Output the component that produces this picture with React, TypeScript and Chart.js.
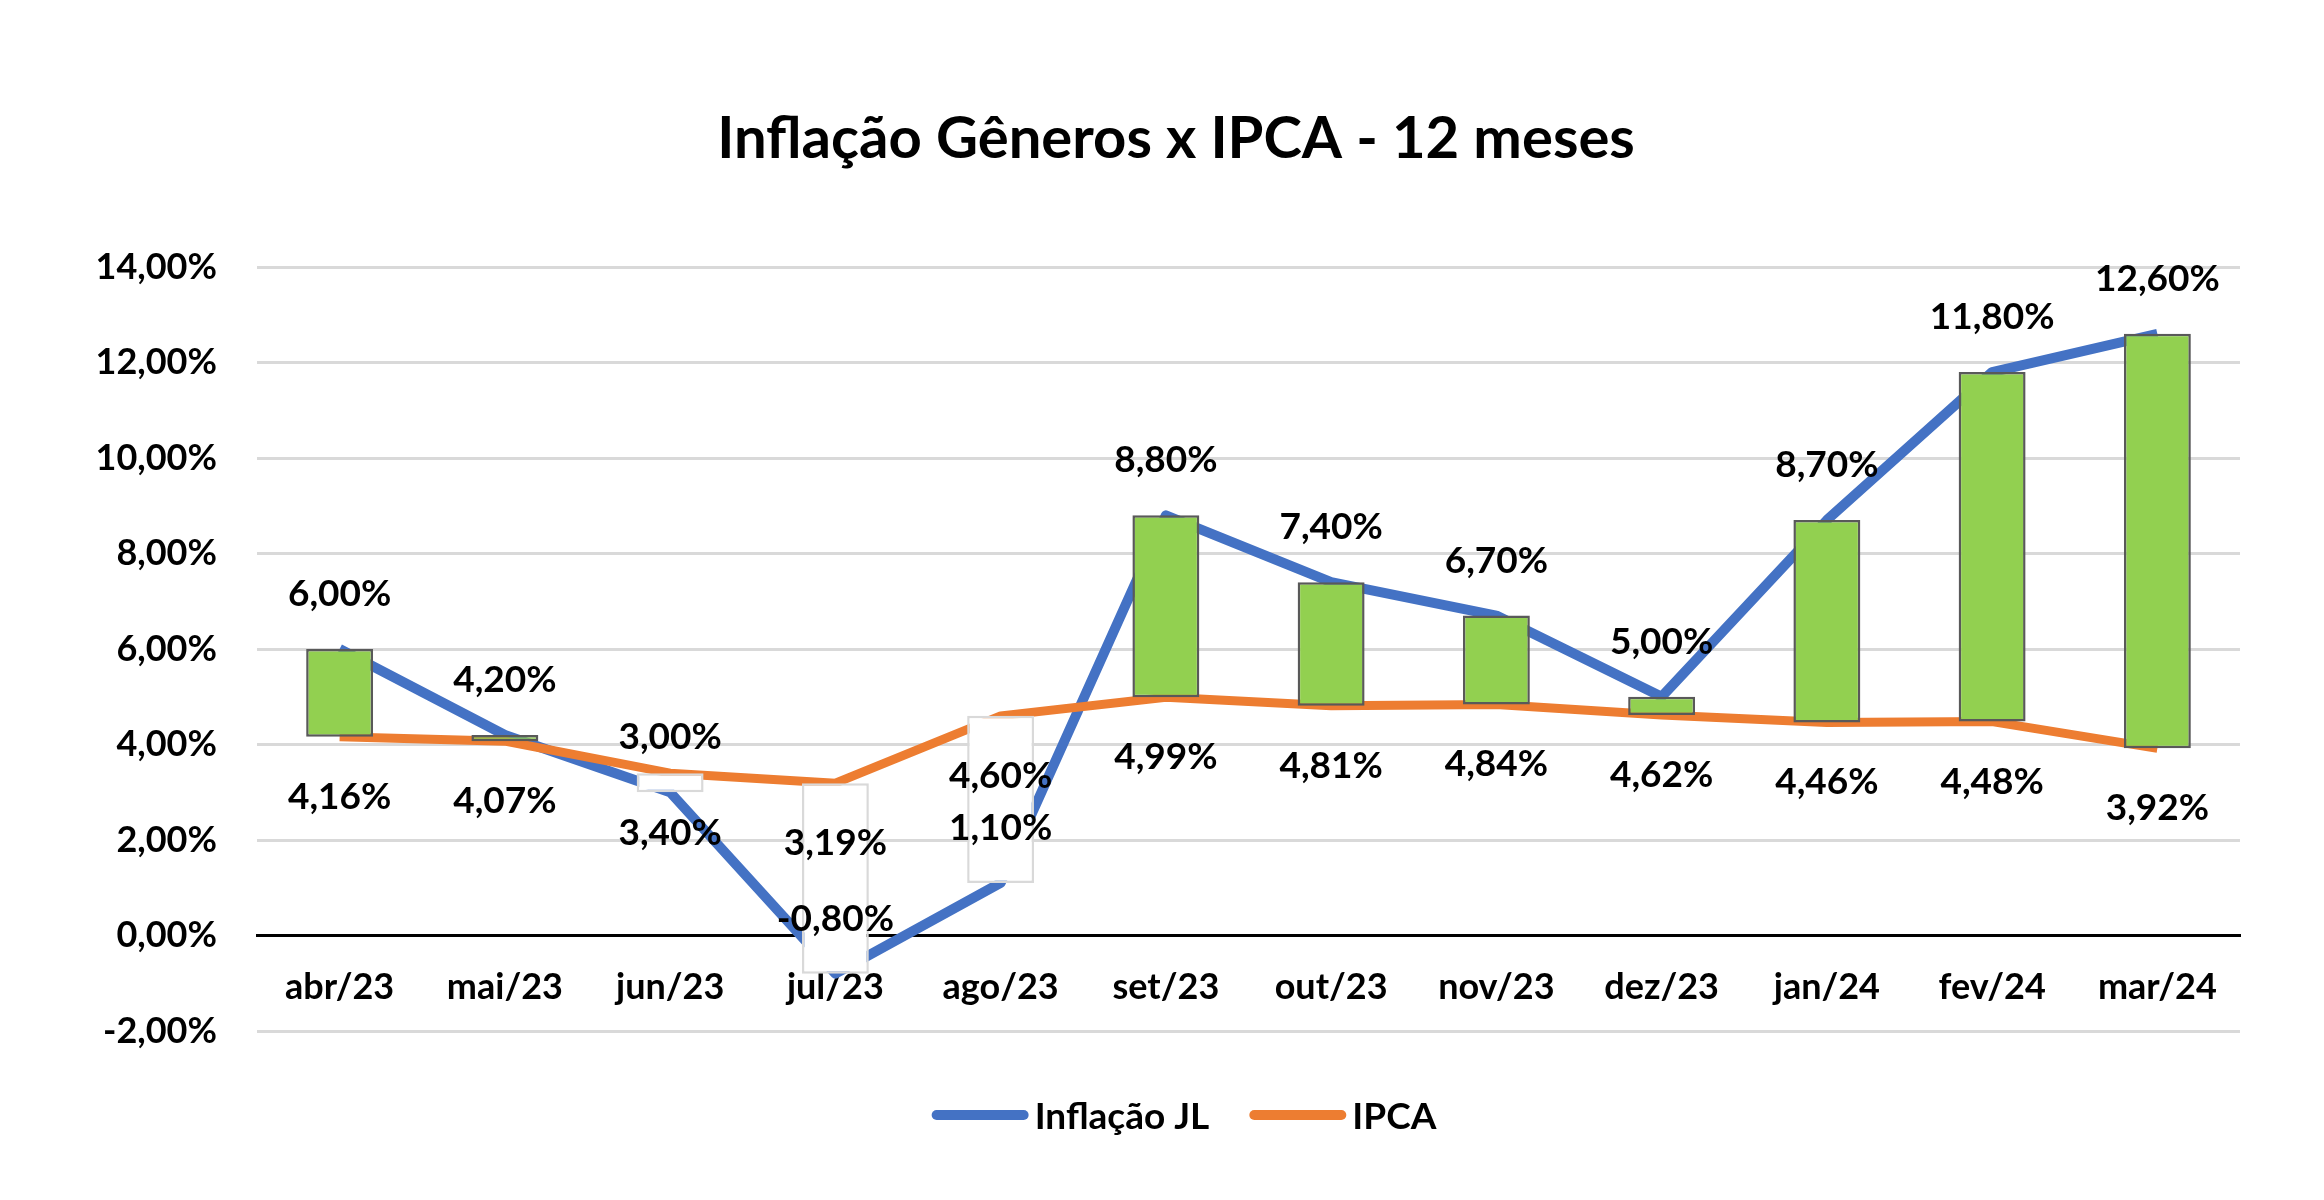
import React, { useEffect, useRef } from 'react';
import { Chart, registerables } from 'chart.js';

Chart.register(...registerables);

// ---- data ----
const months = ['abr/23', 'mai/23', 'jun/23', 'jul/23', 'ago/23', 'set/23', 'out/23', 'nov/23', 'dez/23', 'jan/24', 'fev/24', 'mar/24'];
const inflacaoJL = [6.0, 4.2, 3.0, -0.8, 1.1, 8.8, 7.4, 6.7, 5.0, 8.7, 11.8, 12.6];
const ipca = [4.16, 4.07, 3.4, 3.19, 4.6, 4.99, 4.81, 4.84, 4.62, 4.46, 4.48, 3.92];
const seriesNames = ['Inflação JL', 'IPCA'];
const chartTitle = 'Inflação Gêneros x IPCA - 12 meses';
const yMin = -2;
const yMax = 14;
const yStep = 2;

// ---- styles ----
const FONT = 'Lato, "Noto Sans", sans-serif';
const BLUE = '#4472C4';
const ORANGE = '#ED7D31';
const UP_FILL = '#92D050';
const UP_BORDER = '#595959';
const DOWN_FILL = '#FFFFFF';
const DOWN_BORDER = '#D9D9D9';

const fmt = (v: number) => v.toFixed(2).replace('.', ',') + '%';

const labelsPlugin = {
  id: 'valueLabels',
  afterDatasetsDraw(chart: any) {
    const { ctx, scales } = chart;
    const x = scales.x;
    const y = scales.y;
    ctx.save();
    ctx.font = `bold 37px ${FONT}`;
    ctx.fillStyle = '#000';
    ctx.textAlign = 'center';
    ctx.textBaseline = 'middle';
    months.forEach((_, i) => {
      const px = x.getPixelForValue(i);
      ctx.fillText(fmt(inflacaoJL[i]), px, y.getPixelForValue(inflacaoJL[i]) - 55);
      ctx.fillText(fmt(ipca[i]), px, y.getPixelForValue(ipca[i]) + 60);
    });
    ctx.restore();
  },
};

const titleLegendPlugin = {
  id: 'titleLegend',
  afterDraw(chart: any) {
    const { ctx } = chart;
    ctx.save();
    // title
    ctx.font = `bold 58px ${FONT}`;
    ctx.fillStyle = '#000';
    ctx.textAlign = 'center';
    ctx.textBaseline = 'alphabetic';
    ctx.fillText(chartTitle, 1176, 158);

    // legend
    const colors = [BLUE, ORANGE];
    ctx.font = `bold 37px ${FONT}`;
    const lineLen = 97;
    const gapText = 6;
    const gapItem = 40;
    const widths = seriesNames.map((n) => ctx.measureText(n).width);
    const total = widths.reduce((a, w) => a + lineLen + gapText + w, 0) + gapItem * (seriesNames.length - 1);
    let cx = 1184 - total / 2;
    const cy = 1115;
    seriesNames.forEach((name, i) => {
      ctx.strokeStyle = colors[i];
      ctx.lineWidth = 10;
      ctx.lineCap = 'round';
      ctx.beginPath();
      ctx.moveTo(cx + 5, cy);
      ctx.lineTo(cx + lineLen - 5, cy);
      ctx.stroke();
      cx += lineLen + gapText;
      ctx.textAlign = 'left';
      ctx.textBaseline = 'middle';
      ctx.fillStyle = '#000';
      ctx.fillText(name, cx, cy + 2);
      cx += widths[i] + gapItem;
    });
    ctx.restore();
  },
};

export default function App() {
  const canvasRef = useRef<HTMLCanvasElement | null>(null);

  useEffect(() => {
    document.body.style.margin = '0';
    const canvas = canvasRef.current;
    if (!canvas) return;
    const up = months.map((_, i) => inflacaoJL[i] >= ipca[i]);
    const chart = new Chart(canvas, {
      type: 'bar',
      data: {
        labels: months,
        datasets: [
          {
            type: 'bar',
            label: 'updown',
            data: months.map((_, i) => [ipca[i], inflacaoJL[i]]) as any,
            backgroundColor: up.map((u) => (u ? UP_FILL : DOWN_FILL)),
            borderColor: up.map((u) => (u ? UP_BORDER : DOWN_BORDER)),
            borderWidth: 2.5,
            borderSkipped: false,
            barPercentage: 0.405,
            categoryPercentage: 1,
            order: 0,
          } as any,
          {
            type: 'line',
            label: seriesNames[1],
            data: ipca,
            borderColor: ORANGE,
            backgroundColor: ORANGE,
            borderWidth: 9,
            pointRadius: 0,
            tension: 0,
            borderJoinStyle: 'round',
            order: 1,
          } as any,
          {
            type: 'line',
            label: seriesNames[0],
            data: inflacaoJL,
            borderColor: BLUE,
            backgroundColor: BLUE,
            borderWidth: 10,
            pointRadius: 0,
            tension: 0,
            borderJoinStyle: 'round',
            order: 2,
          } as any,
        ],
      },
      options: {
        responsive: false,
        animation: false,
        devicePixelRatio: 1,
        layout: { padding: { top: 267, bottom: 169, left: 0, right: 84 } },
        plugins: {
          legend: { display: false },
          title: { display: false },
          tooltip: { enabled: false },
        },
        scales: {
          x: {
            position: { y: 0 } as any,
            offset: true,
            grid: { display: false, drawTicks: false },
            border: { display: true, color: '#000', width: 3 },
            ticks: {
              color: '#000',
              font: { family: FONT, size: 36, weight: 'bold' },
              padding: 30,
              maxRotation: 0,
              autoSkip: false,
            },
          },
          y: {
            min: yMin,
            max: yMax,
            afterFit: (scale: any) => {
              scale.width = 257;
            },
            grid: { color: '#D9D9D9', lineWidth: 3, drawTicks: false },
            border: { display: false },
            ticks: {
              stepSize: yStep,
              color: '#000',
              padding: 40,
              font: { family: FONT, size: 36, weight: 'bold' },
              callback: (v: any) => fmt(Number(v)),
            },
          },
        },
      },
      plugins: [labelsPlugin, titleLegendPlugin],
    });
    return () => chart.destroy();
  }, []);

  return (
    <div style={{ width: 2324, height: 1200, background: '#fff' }}>
      <canvas ref={canvasRef} width={2324} height={1200} style={{ display: 'block', width: 2324, height: 1200 }} />
    </div>
  );
}
